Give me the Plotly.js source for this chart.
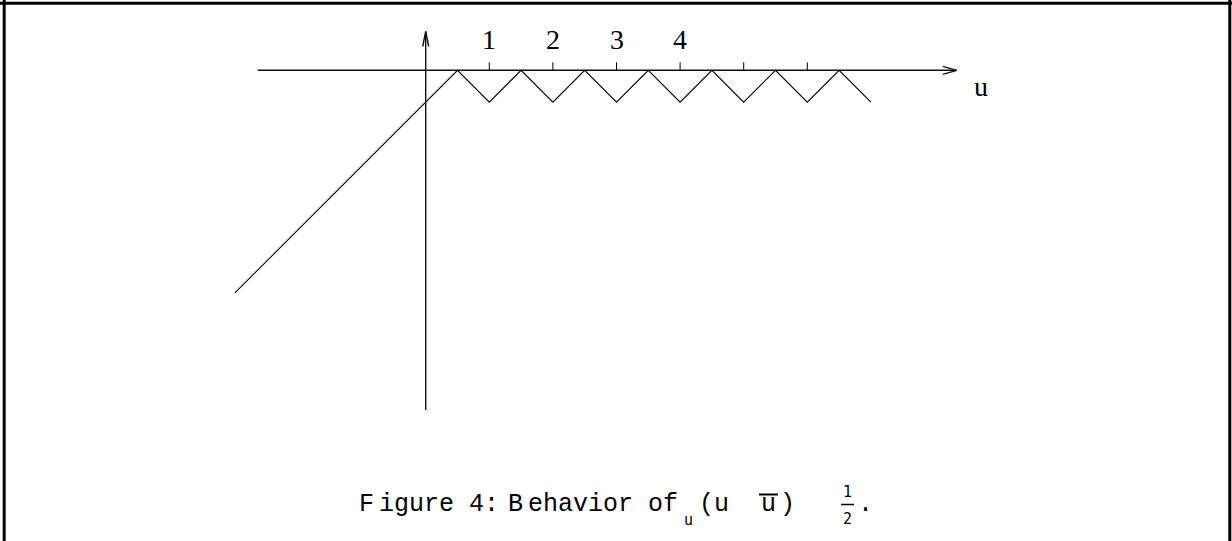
<!DOCTYPE html>
<html>
<head>
<meta charset="utf-8">
<script src="https://cdn.plot.ly/plotly-3.0.1.min.js"></script>
<style>
  html, body { margin: 0; padding: 0; background: #fff; }
  #plot { width: 1232px; height: 541px; }
</style>
</head>
<body>
<div id="plot"></div>
<script>
// the curve: ramp up to the first peak, then a saw between 0 and -1/2
const curveU = [-3, 0.5, 1, 1.5, 2, 2.5, 3, 3.5, 4, 4.5, 5, 5.5, 6, 6.5, 7];
const curveV = [-3.5, 0, -0.5, 0, -0.5, 0, -0.5, 0, -0.5, 0, -0.5, 0, -0.5, 0, -0.5];

// axis extents (u from left end to arrow tip, v from bottom to arrow tip)
const axisU = [-2.64, 8.35];
const axisV = [-5.34, 0.61];

const tickU = [1, 2, 3, 4, 5, 6];
const tickLabels = ['1', '2', '3', '4', '', ''];

// page geometry: 1 unit = 63.6 px, origin at (425.7, 70.3)
const W = 1232, H = 541;
const unit = 63.6, ox = 425.7, oy = 70.3;
const px = x => x / W;
const py = y => 1 - y / H;

const lineStyle = { color: '#000', width: 1.1 };
const axisStyle = { color: '#111', width: 1.4 };

const traces = [];

traces.push({
  x: curveU, y: curveV, mode: 'lines', line: lineStyle,
  hoverinfo: 'skip', showlegend: false
});

// horizontal axis with open arrow head
const hx = 14 / unit, hy = 4 / unit;
traces.push({
  x: [axisU[0], axisU[1], null, axisU[1] - hx, axisU[1], axisU[1] - hx],
  y: [0, 0, null, hy, 0, -hy],
  mode: 'lines', line: axisStyle, hoverinfo: 'skip', showlegend: false
});

// vertical axis with open arrow head
const vx = 3 / unit, vy = 15 / unit;
traces.push({
  x: [0, 0, null, -vx, 0, vx],
  y: [axisV[0], axisV[1], null, axisV[1] - vy, axisV[1], axisV[1] - vy],
  mode: 'lines', line: axisStyle, hoverinfo: 'skip', showlegend: false
});

// tick marks above the axis
const tickLen = 8 / unit;
const tx = [], ty = [];
tickU.forEach(t => { tx.push(t, t, null); ty.push(0, tickLen, null); });
traces.push({
  x: tx, y: ty, mode: 'lines', line: { color: '#000', width: 1 },
  hoverinfo: 'skip', showlegend: false
});

const serif = { family: 'Liberation Serif, Times New Roman, serif', size: 28, color: '#000' };
const mono = { family: 'Liberation Mono, Courier New, monospace', size: 25, color: '#000' };
const small = { family: 'DejaVu Sans Mono, monospace', size: 15, color: '#000' };

const annotations = [];
tickU.forEach((t, i) => {
  if (!tickLabels[i]) return;
  annotations.push({
    x: t, y: 0.49, xref: 'x', yref: 'y', text: tickLabels[i],
    showarrow: false, font: serif, xanchor: 'center', yanchor: 'middle'
  });
});
annotations.push({
  x: 8.73, y: -0.25, xref: 'x', yref: 'y', text: 'u',
  showarrow: false, font: serif, xanchor: 'center', yanchor: 'middle'
});

// caption pieces, placed in page pixels
const cap = (text, x, y, font, anchor) => annotations.push({
  x: px(x), y: py(y), xref: 'paper', yref: 'paper', text: text,
  showarrow: false, font: font || mono, xanchor: anchor || 'left', yanchor: 'middle'
});
cap('F', 357, 504);
cap('igure 4:', 377, 504);
cap('B', 506, 504);
cap('ehavior of', 526, 504);
cap('u', 688, 520, small, 'center');
cap('(u', 697, 504);
cap('u', 768, 504, mono, 'center');
cap(')', 787, 504, mono, 'center');
cap('1', 847, 492, small, 'center');
cap('2', 847, 519, small, 'center');
cap('.', 865, 504, mono, 'center');

const paperLine = (x0, y0, x1, y1, w) => ({
  type: 'line', xref: 'paper', yref: 'paper',
  x0: px(x0), y0: py(y0), x1: px(x1), y1: py(y1),
  line: { color: '#000', width: w }
});

const shapes = [
  paperLine(4.2, 0, 4.2, H, 3),
  paperLine(0, 3.2, W, 3.2, 3),
  paperLine(1229.8, 0, 1229.8, H, 3),
  paperLine(759, 494.5, 778, 494.5, 2),
  paperLine(841, 504.5, 854, 504.5, 1.5)
];

const layout = {
  width: W, height: H,
  margin: { t: 0, r: 0, b: 0, l: 0 },
  paper_bgcolor: '#fff', plot_bgcolor: '#fff',
  xaxis: { range: [-ox / unit, (W - ox) / unit], visible: false, fixedrange: true },
  yaxis: { range: [-(H - oy) / unit, oy / unit], visible: false, fixedrange: true },
  annotations: annotations,
  shapes: shapes,
  showlegend: false
};

Plotly.newPlot('plot', traces, layout, { displayModeBar: false, staticPlot: true });
</script>
</body>
</html>
